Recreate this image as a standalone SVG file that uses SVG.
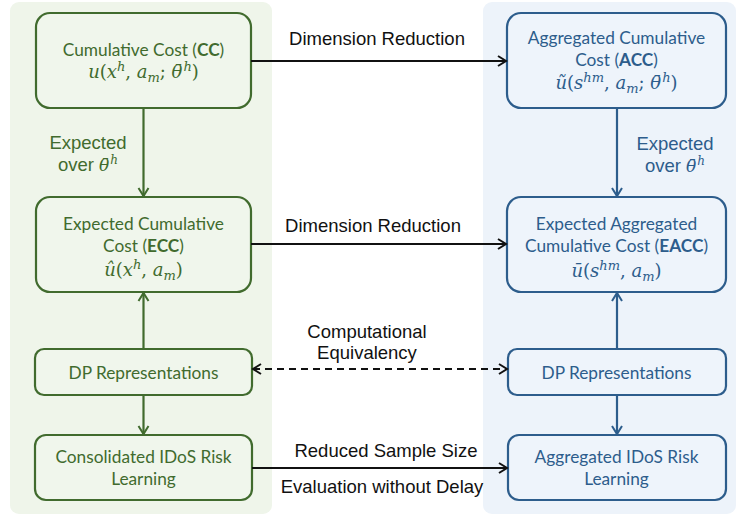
<svg xmlns="http://www.w3.org/2000/svg" width="736" height="516" viewBox="0 0 736 516">
<style>
.pg{fill:#eff5ea}
.pb{fill:#edf3fa}
.ng rect{fill:#f0f6ec;stroke:#416b2e;stroke-width:2.2}
.nb rect{fill:#eef4fb;stroke:#2d5d8c;stroke-width:2.2}
.t{font-family:Lato,"Liberation Sans",sans-serif;font-size:17.3px;text-anchor:middle}
.ng text{fill:#416b2e}
.nb text{fill:#2d5d8c}
.f{font-family:"DejaVu Serif",serif;font-size:18px;text-anchor:middle}
.i{font-style:italic}
.s{font-size:13px;font-style:italic}
.lab{font-family:"Liberation Sans",Arial,sans-serif;font-size:18.5px;text-anchor:middle;fill:#111}
.lg{fill:#416b2e}
.lb{fill:#2d5d8c}
.ck{stroke:#111;stroke-width:2;fill:none}
.cg{stroke:#416b2e;stroke-width:2.2;fill:none}
.cb{stroke:#2d5d8c;stroke-width:2.2;fill:none}
</style>
<defs>
<marker id="ak" markerUnits="userSpaceOnUse" markerWidth="12" markerHeight="14" refX="9" refY="6" orient="auto-start-reverse" viewBox="0 0 12 12"><path d="M1,1 L9,6 L1,11" fill="none" stroke="#111" stroke-width="2"/></marker>
<marker id="ag" markerUnits="userSpaceOnUse" markerWidth="12" markerHeight="14" refX="9" refY="6" orient="auto-start-reverse" viewBox="0 0 12 12"><path d="M1,1 L9,6 L1,11" fill="none" stroke="#416b2e" stroke-width="2"/></marker>
<marker id="ab" markerUnits="userSpaceOnUse" markerWidth="12" markerHeight="14" refX="9" refY="6" orient="auto-start-reverse" viewBox="0 0 12 12"><path d="M1,1 L9,6 L1,11" fill="none" stroke="#2d5d8c" stroke-width="2"/></marker>
</defs>
<rect class="pg" x="10" y="2" width="262" height="512" rx="9"/>
<rect class="pb" x="483" y="2" width="253" height="512" rx="9"/>

<g id="cc" class="ng">
<rect x="36" y="13" width="215" height="95" rx="14"/>
<text class="t" x="143.5" y="56">Cumulative Cost (<tspan font-weight="bold">CC</tspan>)</text>
<text class="f" x="143.5" y="78"><tspan class="i">u</tspan>(<tspan class="i">x</tspan><tspan class="s" dy="-7">h</tspan><tspan dy="7">, </tspan><tspan class="i">a</tspan><tspan class="s" dy="4">m</tspan><tspan dy="-4">; </tspan><tspan class="i">θ̄</tspan><tspan class="s" dx="1" dy="-7">h</tspan><tspan dy="7">)</tspan></text>
</g>
<g id="ecc" class="ng">
<rect x="36" y="197" width="215" height="95" rx="14"/>
<text class="t" x="143.5" y="230">Expected Cumulative</text>
<text class="t" x="143.5" y="252">Cost (<tspan font-weight="bold">ECC</tspan>)</text>
<text class="f" x="143.5" y="276"><tspan class="i">û</tspan>(<tspan class="i">x</tspan><tspan class="s" dy="-7">h</tspan><tspan dy="7">, </tspan><tspan class="i">a</tspan><tspan class="s" dy="4">m</tspan><tspan dy="-4">)</tspan></text>
</g>
<g id="dpl" class="ng">
<rect x="35" y="349" width="217" height="46" rx="9"/>
<text class="t" x="143.5" y="379">DP Representations</text>
</g>
<g id="cil" class="ng">
<rect x="35" y="435" width="217" height="65" rx="11"/>
<text class="t" x="143.5" y="463">Consolidated IDoS Risk</text>
<text class="t" x="143.5" y="485">Learning</text>
</g>
<g id="acc" class="nb">
<rect x="507" y="13" width="219" height="95" rx="14"/>
<text class="t" x="616.5" y="44">Aggregated Cumulative</text>
<text class="t" x="616.5" y="66">Cost (<tspan font-weight="bold">ACC</tspan>)</text>
<text class="f" x="616.5" y="89"><tspan class="i">ũ</tspan>(<tspan class="i">s</tspan><tspan class="s" dy="-7">hm</tspan><tspan dy="7">, </tspan><tspan class="i">a</tspan><tspan class="s" dy="4">m</tspan><tspan dy="-4">; </tspan><tspan class="i">θ̄</tspan><tspan class="s" dx="1" dy="-7">h</tspan><tspan dy="7">)</tspan></text>
</g>
<g id="eacc" class="nb">
<rect x="507" y="197" width="219" height="95" rx="14"/>
<text class="t" x="616.5" y="230">Expected Aggregated</text>
<text class="t" x="616.5" y="252">Cumulative Cost (<tspan font-weight="bold">EACC</tspan>)</text>
<text class="f" x="616.5" y="277"><tspan class="i">ū</tspan>(<tspan class="i">s</tspan><tspan class="s" dy="-7">hm</tspan><tspan dy="7">, </tspan><tspan class="i">a</tspan><tspan class="s" dy="4">m</tspan><tspan dy="-4">)</tspan></text>
</g>
<g id="dpr" class="nb">
<rect x="508" y="349" width="218" height="46" rx="9"/>
<text class="t" x="616.5" y="379">DP Representations</text>
</g>
<g id="ail" class="nb">
<rect x="508" y="435" width="218" height="65" rx="11"/>
<text class="t" x="616.5" y="463">Aggregated IDoS Risk</text>
<text class="t" x="616.5" y="485">Learning</text>
</g>

<g id="connectors">
<line class="ck" x1="251" y1="61" x2="506" y2="61" marker-end="url(#ak)"/>
<text class="lab" x="377" y="45">Dimension Reduction</text>
<line class="ck" x1="251" y1="244" x2="506" y2="244" marker-end="url(#ak)"/>
<text class="lab" x="373" y="232">Dimension Reduction</text>
<line class="ck" x1="253" y1="369" x2="507" y2="369" stroke-dasharray="7,5" marker-start="url(#ak)" marker-end="url(#ak)"/>
<text class="lab" x="367" y="338">Computational</text>
<text class="lab" x="367" y="359">Equivalency</text>
<line class="ck" x1="252" y1="468" x2="507" y2="468" marker-end="url(#ak)"/>
<text class="lab" x="386" y="457">Reduced Sample Size</text>
<text class="lab" x="382" y="493">Evaluation without Delay</text>

<line class="cg" x1="143.5" y1="108" x2="143.5" y2="196" marker-end="url(#ag)"/>
<text class="lab lg" x="88" y="149">Expected</text>
<text class="lab lg" x="88" y="171">over <tspan font-family="DejaVu Serif" font-style="italic" font-size="17">θ̄</tspan><tspan font-family="DejaVu Serif" font-style="italic" font-size="12" dx="1" dy="-7">h</tspan></text>
<line class="cg" x1="143.5" y1="349" x2="143.5" y2="293" marker-end="url(#ag)"/>
<line class="cg" x1="143.5" y1="395" x2="143.5" y2="434" marker-end="url(#ag)"/>

<line class="cb" x1="617" y1="108" x2="617" y2="196" marker-end="url(#ab)"/>
<text class="lab lb" x="675" y="150">Expected</text>
<text class="lab lb" x="675" y="172">over <tspan font-family="DejaVu Serif" font-style="italic" font-size="17">θ̄</tspan><tspan font-family="DejaVu Serif" font-style="italic" font-size="12" dx="1" dy="-7">h</tspan></text>
<line class="cb" x1="617" y1="349" x2="617" y2="293" marker-end="url(#ab)"/>
<line class="cb" x1="617" y1="395" x2="617" y2="434" marker-end="url(#ab)"/>
</g>
</svg>
